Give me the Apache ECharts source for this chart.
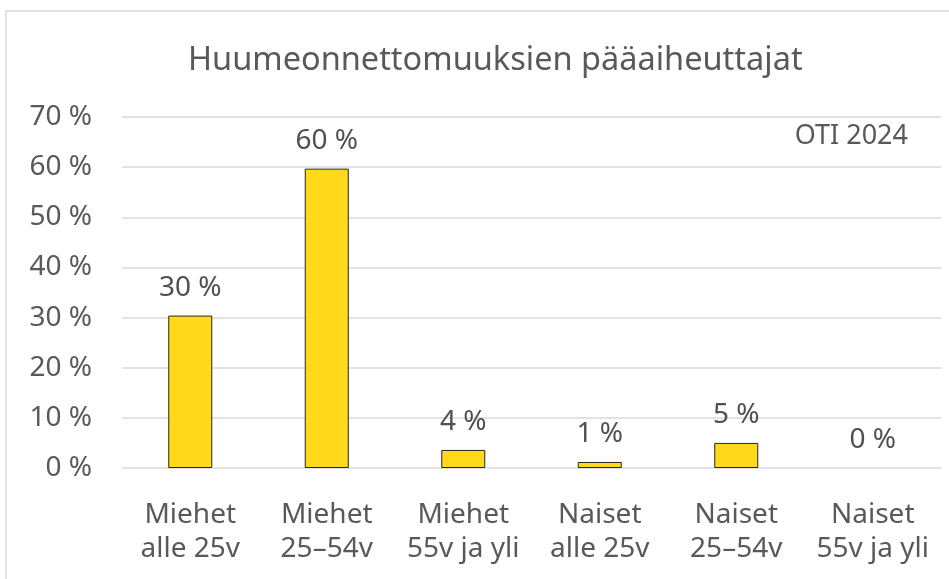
<!DOCTYPE html>
<html>
<head>
<meta charset="utf-8">
<script src="https://cdn.jsdelivr.net/npm/echarts@6/dist/echarts.min.js"></script>
<style>
  html, body { margin: 0; padding: 0; background: #fff; }
  #chart { width: 949px; height: 579px; }
</style>
</head>
<body>
<div id="chart"></div>
<script>
var categories = ["Miehet\nalle 25v", "Miehet\n25–54v", "Miehet\n55v ja yli", "Naiset\nalle 25v", "Naiset\n25–54v", "Naiset\n55v ja yli"];
var values = [30.4, 59.7, 3.6, 1.2, 5.0, 0];
var yTicks = [0, 10, 20, 30, 40, 50, 60, 70];

var font = "'Noto Sans', 'Open Sans', sans-serif";

// zero bars get no outline (nothing visible in the original)
var barData = values.map(function (v) {
    return v === 0 ? { value: v, itemStyle: { borderWidth: 0 } } : v;
});

var chart = echarts.init(document.getElementById("chart"));
chart.setOption({
    animation: false,
    textStyle: { fontFamily: font },
    title: {
        text: "Huumeonnettomuuksien pääaiheuttajat",
        left: 183,
        top: 39,
        textStyle: { fontSize: 32.5, fontWeight: "normal", color: "#595959", fontFamily: font }
    },
    graphic: [
        {
            type: "rect",
            shape: { x: 6, y: 11, width: 1000, height: 700 },
            style: { fill: "none", stroke: "#d9d9d9", lineWidth: 1.5 },
            z: -1
        },
        {
            type: "text",
            right: 41,
            top: 123,
            style: { text: "OTI 2024", fontSize: 27, fill: "#595959", fontFamily: font }
        }
    ],
    grid: { left: 122, right: 8, top: 117, bottom: 111 },
    xAxis: {
        type: "category",
        data: categories,
        axisLine: { show: false },
        axisTick: { show: false },
        axisLabel: { fontSize: 28, color: "#595959", lineHeight: 34, margin: 30, interval: 0 }
    },
    yAxis: {
        type: "value",
        min: yTicks[0],
        max: yTicks[yTicks.length - 1],
        interval: 10,
        axisLine: { show: false },
        axisTick: { show: false },
        splitLine: { lineStyle: { color: "#d9d9d9", width: 1.5 } },
        axisLabel: { fontSize: 28, color: "#595959", margin: 30, formatter: function (v) { return v + " %"; } }
    },
    series: [{
        type: "bar",
        data: barData,
        barWidth: 44,
        itemStyle: { color: "#FFD91A", borderColor: "#262626", borderWidth: 1 },
        label: {
            show: true,
            position: "top",
            distance: 14,
            fontSize: 28,
            color: "#505050",
            formatter: function (p) { return Math.round(p.value) + " %"; }
        }
    }]
});
</script>
</body>
</html>
